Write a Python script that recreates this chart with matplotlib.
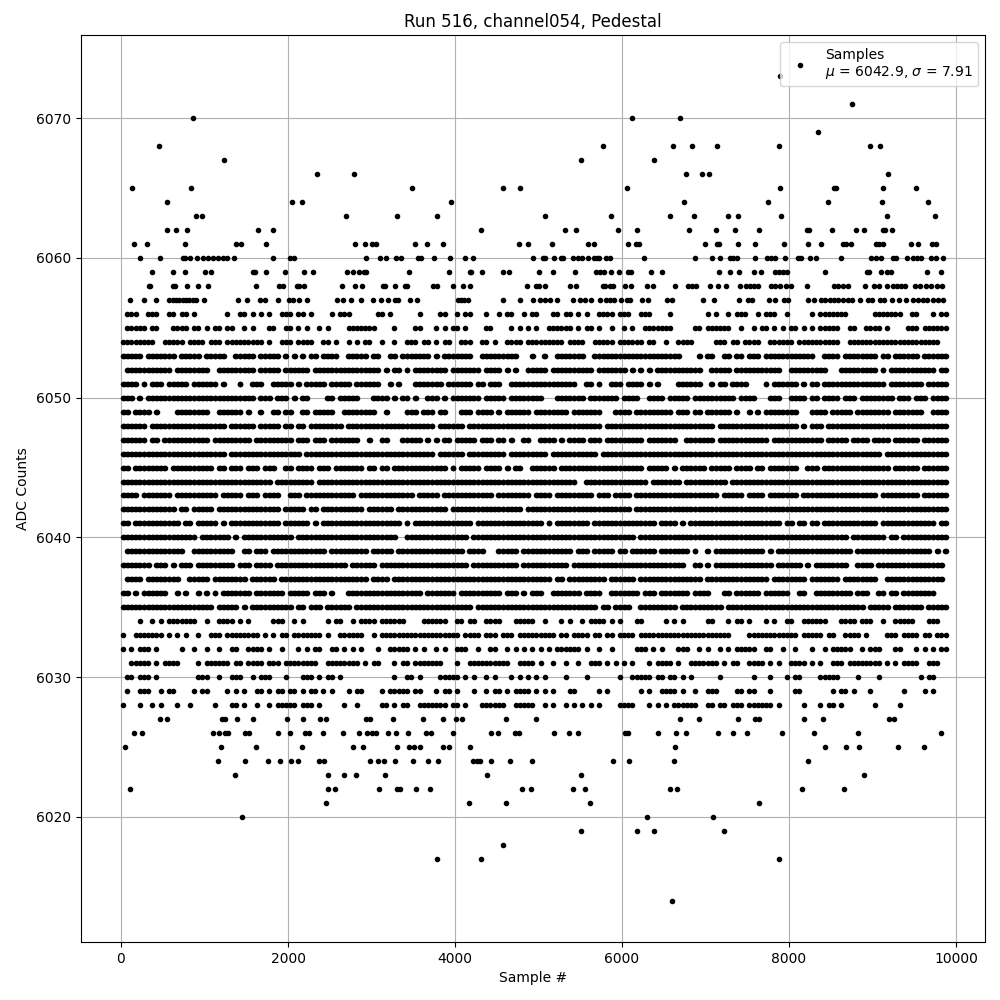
import matplotlib
matplotlib.use("Agg")
import matplotlib.pyplot as plt

TITLE = "Run 516, channel054, Pedestal"
XLABEL = "Sample #"
YLABEL = "ADC Counts"
LABEL = "Samples\n$\\mu$ = 6042.9, $\\sigma$ = 7.91"
BIN = 50  # samples covered by one character of a dense row
SINGLE_OFFSETS = [25]       # an occupied bin in the thinner levels holds one sample
BUSY_OFFSETS = [20, 30]     # an occupied bin in the busiest levels holds two samples
BUSY_LEVELS = range(6035, 6054)

# Dense ADC levels: one character per 50 samples.
dense_rows = {
6056: ".###..###. .##.##.#.. .....#..## .#.#.#..## #.##.#.... #.###..... .##.#..... .#....##.. #.##...#.. #.##..#.## ...##.##.# .#..####.# ##..###... .#........ #.#..#.### ..#.###..# .....#.### ####...... #######..# #...#.##..",
6055: ".#####.##. ..####.##. #.##.##..# .#...##..# #.#.#..#.# ....###### #....#.... ##...#.#.# #.#....##. ...#.#.#.# ..######.# .##.#..#.. #.#..##### ##.....##. ######..#. .#.##.#.#. ##.#.#.### ##..##..## ##.#....## #.######..",
6054: "########.. #####.#### .###.##### ####.#..## #.####..## .#..#.#.## ..#..#..## #.##.#.##. .###..##.# ..####.### ######.### #..#####.# #####.##.. #..####... ..###.##.# ###..##### #.######## ##..###### ########## ######....",
6053: "#####.#### ###.#####. #####..### ##.#####.# .#.#.##.## ##..#####. ##..##.### ####.#.### ####..#### #####...#. .#..###### #..####### ########## ####....#. ##..##.##. ###.###### ######..## ##.####### #.##.##### #.######..",
6052: ".######### ##.####### #..####### ##.#####.# #####.#### ########## ##.#.##.#. ########.# ######.### #.#.#..### ##.####### ###.###### #.#.#.#.## #########. .#####.### ########.. #########. ..######## #.#.###### #####.##..",
6051: "####.#.### .#####.### ###.#...#. .###..#### #.#.#####. #####.#### ##..#.#... #######.## ####.##.## #..####### #########. .##.#..### .####.#.#. ...######. .#.##.#### ....#.#### ##.#.##.## ########## ###.###### ##.#####..",
6050: "###.#.#### ########## ########## ##.###.### .#.##....# #.#####... ####.#.##. #..###.#.# ######.### ##.####### #...###### #.#######. ####..#### .#####.### #######.## ##...###.. ####.##.## ##.###.### #####.###. ###.####..",
6049: "##.####.#. ...####### #..######. #..#..##.# #..##.#### #..####### #..#....## #.###.##.. .###.####. #.######.# #######.## #####...## ##.####### ##.###.##. ######.#.. #.#.###### ##...####. #####.#### ####.##### ##..####..",
6048: "######.### ########## #####.#### ##.#####.# #.##.##### ###.###### ########## #####.#### ##.####### ########## ########## #####.#### ########## ########## ##.####### ########## ##.#.###.# ########## ########## ########..",
6047: "######.##. ########## #.######## #.######## #.###.###. #######..# ..##...### ##.#.#.##. #####.###. ##.#..##.. ####.#.### #.###.#### #####.#### ###..##### ##.####### #####.#### ########.# ####.####. ####.##### #.######..",
6046: "########## ########## #####.#### ########## ###.###### ########## ########## #####.#### ##.####### ##.####### ##.####### ####.##### ########## ########## ########## ########## ########## ########## ##.####### ########..",
6045: "##.####### #.######## ##.##.###. ###.###..# #.####.### .#######.# #.##.##### ########.# .#####.### #.#.##..## ####.##### ########## #####.#### #.#.###### .#####.### #.##.##### ##..###.## ########## ####.##### #.######..",
6044: "########## ########## ########## ######.### ######.### ########## ########## ########## ########## ########## #########. .######### ######.### ####.##### #####.#### ########## ########## ########## ########## ########..",
6043: "####.##### ##.####### ###.#####. ###.####.. ###.###### ######.### ########## .#####.### #########. ########.# ###.###### ###.###.## ##.####### ########## ###.#####. ####.##### ##.####### ########## #.######## #.######..",
6042: "########## ###.##.### ##.####### ########.# ####.##.## ########.# #####.#### ########.# ########## ######.### ########## ########## ##.####### ########## ########## ########## ########## ########## ########## ########..",
6041: "##.####### ####.##.## ###.#.#### ########.# #####.#.## ########## #######.#. ########## ####.##### ########## #.#.###### ##.####### ########.# ###.#.#### ########## ########.# #.##.##.## ########## #.######## #####.##..",
6040: "########## ########.# ######.#.# ########## #.######## ########## ######..## ########## ###.###### ########## ########## ########## ###.###### ########## ########## ########## ########## ####.##### ###.##.### ########..",
6039: ".######### #####..### #######..# #.###.#### #########. #########. #####.#### ########## ##.####... #####.#### ########.# ##.#####.# #.######.# ######.#.. #.######## ####.#.### ########## #####.#### ########## ####.#.#..",
6038: "#######.## #.#.###.## #######.## #.####.### ########## ####.##### #.######## ########## ###.###### #####.#### #######.## ########## ########## #####..##. #.######## ######.### ###.#.#### ####..#### .######### #######...",
6037: ".####.#### ####..#### #.######## .######.## ########## #########. ####.##### ########## ########## ########## ###.##.### ######.### ###.###### #########. ########## #####.#### ####.##### ##.####### #..####### #######...",
6036: "##.#.##### #..#.#..#. #.#.###### #.#######. #####.###. #...###### ########## ##.####### .######### #.###.#.## #..####### .####..### ####.###.# ######.### #...##.### ###.###### ..##..#### #####.###. .##.##.### #####.....",
6035: "########## ########## ##.#####.# .######### #.##.###.# #####.#### ########## ########## ####.##### ########## ########## ####.##.## ##..###### ###.###### ####.##### ########## ########## ########.# ####.##### ##.#####..",
6034: "....#..#.# .#######.. #..####.#. #.....###. .#.#.....# .##..#.### #.######.. ..######.. ##.##..### #...#####. .#...#.#.. #.####.#.# ...##..... #.#.#..... ##...#.##. #...#.#..# #..######. ..####.### ..#..##### ...###....",
6033: "#..####### .#.#.#..#. .###.##### ###.#.#.## .#######.# ..######.. #.######## ########## #.####.### .###.##### ####.##.## ##.##.##.# ###.###### ########## ######.... ########## ##.#####.# #..####.#. ...###.### #.##.###..",
6032: "#.#.###.#. ....#..#.. #..#..##.. ####.#..#. ..#.#.##.. ##.#.#.#.. .#..#####. #.#..#.#.. ###..#..## ..#.#.#.#. #.#.###### .#..#..#.. ...###.#.# ...###..#. #..#.#.### ##..##..#. .#...#..#. #####..#.# ##...##... #.#.#.##..",
6031: "..#####.#. ####....#. ######.##. ####.###.# #######..# #######.#. ##...#.##. #######... #..####### ###..####. #..#..#..# ..###.#.#. #.#...#.## ##.#..#### ###.#.##.. ####.#.#.. ####.#.#.. ###.###### ##.#.#.### #..###....",
6030: ".##.###.#. ........## #..#..###. .#.###...# ...###.#.# #.#....... .....#..## .#....#### #.#.#..#.# ...#.#.#.# .#....#... .#.......# ..#####.## .##.#.#... ...#...... .#...#...# .##....### ##....#... .#........ .#.##.....",
6029: ".#..###..# .##....#.# #....#.#.# ..##.#.##. ##.#.##.#. #...#.##.. ..#.#####. ##...#.##. #...#..#.# #.#.####.# .#.#...##. ....#.#... ....#.#..# ###.#..#.. ###....##. ##...#.... .##....... #.##.#...# .......#.. ..#.#.....",
6028: "#...#..#.# ...#..#... ..#...##.# ..#..#.### ##.###.#.. ...#..#... ..##.#.##. .#######.# #.#...#### ##..#####. .#.#..#.#. #.#.#....# ###...#.#. #.######.. ##.##.###. ######.#.. ...#...#.# #.#....... #.....#... ..........",
}

# Sparse ADC levels: sample numbers.
sparse_rows = {
6073: [7890],
6071: [8752],
6070: [860, 6124, 6700],
6069: [8344],
6068: [452, 5776, 6616, 6844, 7132, 7876, 8968, 9088],
6067: [1232, 5512, 6388],
6066: [2348, 2792, 6772, 6952, 7036, 9184],
6065: [128, 836, 3484, 4576, 4780, 6064, 7888, 8536, 8560, 9124, 9520],
6064: [548, 2048, 2168, 3952, 6748, 7744, 8464, 9112, 9664],
6063: [896, 968, 2696, 3308, 3784, 5080, 5872, 6580, 6868, 7264, 7384, 7900, 9172, 9748],
6062: [548, 656, 788, 1640, 1820, 4312, 5320, 5452, 5956, 6184, 6808, 7120, 7348, 7636, 8212, 8236, 8512, 8800, 8896, 9124, 9148, 9232],
6061: [152, 308, 764, 1376, 1436, 1736, 2804, 2924, 3008, 3056, 3520, 3664, 3856, 4768, 4876, 5164, 5596, 5668, 6076, 6172, 6208, 6988, 7132, 7156, 7384, 7588, 7936, 8224, 8380, 8644, 8680, 8740, 9040, 9076, 9124, 9460, 9544, 9712, 9760],
6060: [224, 464, 740, 772, 824, 908, 980, 1040, 1100, 1160, 1220, 1268, 1352, 1820, 2024, 2072, 2936, 3104, 3176, 3296, 3356, 3556, 3592, 3748, 3940, 4120, 4216, 4936, 5056, 5080, 5188, 5272, 5296, 5416, 5476, 5524, 5596, 5668, 5704, 5728, 5812, 5860, 6268, 6880, 7072, 7168, 7288, 7324, 7372, 7588, 7732, 7780, 7828, 7948, 8104, 8140, 8248, 8320, 8620, 8980, 9040, 9100, 9244, 9280, 9412, 9484, 9532, 9580, 9700, 9760, 9844],
6059: [368, 620, 764, 1004, 1076, 1580, 1604, 1736, 1964, 2192, 2300, 2708, 2780, 2852, 2912, 2936, 3452, 3928, 4180, 4192, 4324, 4576, 4648, 5008, 5176, 5440, 5692, 5740, 5788, 5872, 5968, 6076, 6112, 6352, 6484, 7156, 7288, 7396, 7576, 7660, 7828, 7876, 7924, 7972, 8428, 8932, 8956, 9100, 9172, 9220, 9652, 9820],
6058: [332, 348, 620, 644, 788, 920, 1040, 1616, 1892, 1940, 2108, 2132, 2192, 2648, 2804, 2888, 3140, 3164, 3284, 3404, 3428, 3736, 3784, 3976, 4096, 4180, 4864, 4972, 5008, 5080, 5380, 5452, 5776, 5800, 5860, 5896, 6040, 6112, 6304, 6376, 6640, 6796, 6844, 6892, 7048, 7144, 7240, 7408, 7480, 7528, 7576, 7624, 7780, 7828, 7888, 7960, 8020, 8212, 8536, 8584, 8644, 8704, 8908, 9016, 9076, 9172, 9244, 9292, 9340, 9388, 9508, 9568, 9640, 9700, 9772, 9832],
6057: [104, 272, 416, 572, 620, 660, 700, 740, 780, 820, 860, 900, 992, 1400, 1508, 1664, 1724, 1880, 2012, 2060, 2132, 2228, 2588, 2660, 2756, 2876, 3020, 3116, 3200, 3284, 3320, 3460, 3544, 4036, 4072, 4112, 4156, 4576, 4780, 4936, 5020, 5080, 5140, 5216, 5416, 5500, 5560, 5632, 5740, 5812, 5860, 5900, 5992, 6064, 6100, 6244, 6316, 6544, 6604, 6964, 7096, 7396, 7504, 7552, 7756, 7828, 7936, 7984, 8224, 8296, 8380, 8428, 8488, 8536, 8584, 8644, 8704, 8752, 8848, 8944, 8992, 9088, 9136, 9232, 9316, 9400, 9484, 9544, 9604, 9652, 9724, 9784, 9844],
6027: [464, 548, 1208, 1244, 1388, 1580, 1988, 2180, 2384, 2456, 2936, 2984, 3260, 3616, 3856, 4012, 4084, 4612, 4972, 6700, 6916, 7384, 7588, 7636, 8176, 8404, 9196, 9256],
6026: [152, 248, 1100, 1172, 1244, 1280, 1484, 1532, 1880, 2024, 2204, 2252, 2420, 2660, 2852, 2948, 3000, 3056, 3200, 3296, 3436, 3652, 3712, 3976, 4432, 4516, 4720, 4768, 5188, 5368, 5476, 6040, 6076, 6436, 6652, 6772, 7144, 7324, 7492, 7912, 8296, 8824, 9820],
6025: [44, 1196, 1616, 2168, 2780, 2900, 3308, 3452, 3508, 3580, 3856, 3928, 4180, 6640, 8428, 8680, 8836, 9304, 9616],
6024: [1160, 1484, 1760, 1904, 2036, 2120, 2372, 2432, 2984, 3080, 3152, 3284, 3496, 3676, 3796, 4216, 4264, 4300, 4432, 4660, 4924, 5896, 6088, 6628, 8224],
6023: [1364, 2480, 2672, 2816, 3164, 4384, 5512, 8896],
6022: [104, 2480, 2564, 3092, 3308, 3344, 3532, 3700, 4804, 4912, 5416, 5560, 6580, 6664, 8152, 8656],
6021: [2456, 4168, 4612, 5620, 7636],
6020: [1448, 6304, 7084],
6019: [5512, 6184, 6388, 7216],
6018: [4576],
6017: [3784, 4312, 7876],
6014: [6604],
}

samples, counts = [], []
for level, row in dense_rows.items():
    offsets = BUSY_OFFSETS if level in BUSY_LEVELS else SINGLE_OFFSETS
    for i, ch in enumerate(row.replace(" ", "")):
        if ch == "#":
            for off in offsets:
                samples.append(i * BIN + off)
                counts.append(level)
for level, xs in sparse_rows.items():
    samples.extend(xs)
    counts.extend([level] * len(xs))

fig, ax = plt.subplots(figsize=(10, 10), dpi=100)
ax.plot(samples, counts, ".", color="k", label=LABEL)
ax.set_title(TITLE)
ax.set_xlabel(XLABEL)
ax.set_ylabel(YLABEL)
ax.set_xlim(-479, 10347)
ax.set_ylim(6011.05, 6075.95)
ax.grid(True)
ax.legend(loc="upper right")
fig.subplots_adjust(left=0.081, right=0.985, top=0.965, bottom=0.058)
fig.savefig("out.png", dpi=100)
